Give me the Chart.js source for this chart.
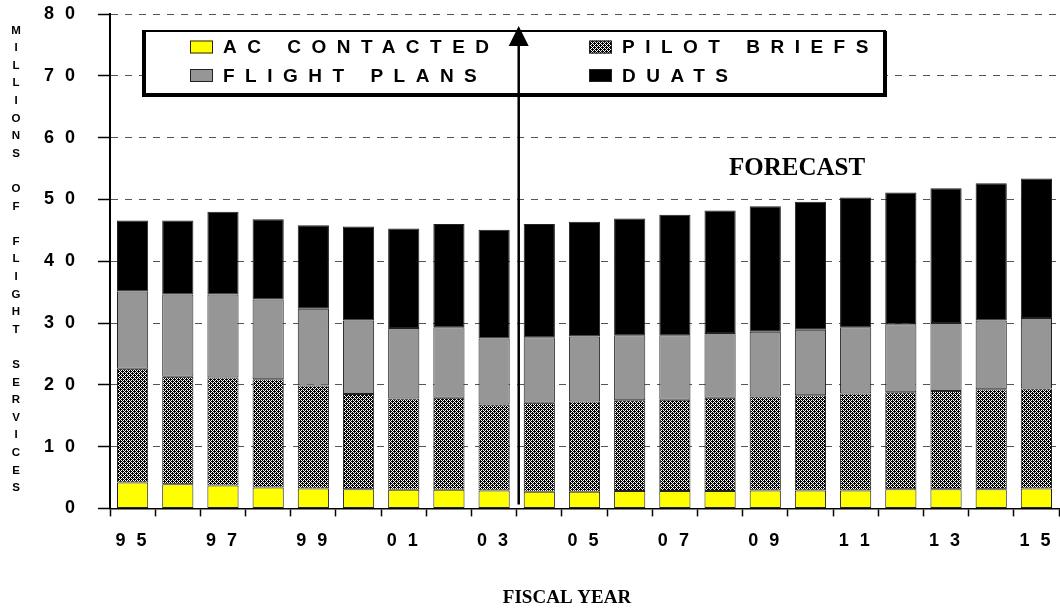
<!DOCTYPE html>
<html>
<head>
<meta charset="utf-8">
<title>Flight services forecast</title>
<script src="https://cdn.jsdelivr.net/npm/chart.js@4.4.1/dist/chart.umd.min.js"></script>
<style>
  body { margin: 0; background: #fff; }
  #wrap { width: 1060px; height: 611px; }
</style>
</head>
<body>
<div id="wrap"><canvas id="servicesChart" width="1060" height="611"></canvas></div>
<script>
// fiscal years (95 .. 15)
const years = ['95', '96', '97', '98', '99', '00', '01', '02', '03', '04', '05',
               '06', '07', '08', '09', '10', '11', '12', '13', '14', '15'];

// millions of flight services, per series (stacked)
const acContacted = [4.2, 3.9, 3.7, 3.4, 3.2, 3.1, 3.0, 3.0, 2.9, 2.7, 2.7,
                     2.8, 2.8, 2.8, 2.9, 2.9, 2.9, 3.1, 3.1, 3.1, 3.2];
const pilotBriefs = [18.4, 17.4, 17.5, 17.5, 16.7, 15.4, 14.8, 14.9, 13.9, 14.4, 14.6,
                     14.7, 14.8, 15.1, 15.2, 15.4, 15.7, 15.7, 15.9, 16.2, 16.2];
const flightPlans = [12.5, 13.3, 13.4, 12.9, 12.4, 11.9, 11.4, 11.4, 10.7, 10.6, 10.5,
                     10.5, 10.4, 10.5, 10.5, 10.6, 10.7, 11.0, 11.0, 11.1, 11.4];
const duats = [11.5, 12.0, 13.4, 13.0, 13.5, 15.2, 16.1, 16.7, 17.6, 18.3, 18.6,
               18.9, 19.5, 19.8, 20.3, 20.7, 21.0, 21.3, 21.8, 22.2, 22.6];

const yTicks = [0, 10, 20, 30, 40, 50, 60, 70, 80];
const yTitle = ['M', 'I', 'L', 'L', 'I', 'O', 'N', 'S', '', 'O', 'F', '',
                'F', 'L', 'I', 'G', 'H', 'T', '', 'S', 'E', 'R', 'V', 'I', 'C', 'E', 'S'];
const legendItems = [
    { text: 'AC CONTACTED', fill: 'yellow' },
    { text: 'PILOT BRIEFS', fill: 'hatch' },
    { text: 'FLIGHT PLANS', fill: 'gray' },
    { text: 'DUATS', fill: 'black' }
];
const forecastLabel = 'FORECAST';
const xTitle = 'FISCAL YEAR';

const SANS = '"Liberation Sans", Arial, sans-serif';
const SERIF = '"Liberation Serif", "Times New Roman", serif';
const YELLOW = '#ffff00';
const GRAY = '#969696';

// fine checker / diagonal dither used for pilot briefs
function makeHatch() {
    const c = document.createElement('canvas');
    c.width = 4; c.height = 4;
    const g = c.getContext('2d');
    g.fillStyle = '#fff';
    g.fillRect(0, 0, 4, 4);
    g.fillStyle = '#000';
    for (let y = 0; y < 4; y++) {
        for (let x = 0; x < 4; x++) {
            if ((x + y) % 2 === 0) g.fillRect(x, y, 1, 1);
            else if ((x + y) % 4 === 1 && x % 2 === 0) g.fillRect(x, y, 1, 1);
        }
    }
    return g.createPattern(c, 'repeat');
}
const hatch = makeHatch();

function spaced(s) {
    return String(s).split('').join(' ');
}

function fillFor(name) {
    if (name === 'yellow') return YELLOW;
    if (name === 'gray') return GRAY;
    if (name === 'hatch') return hatch;
    return '#000';
}

// text pieces + legend + arrow drawn on top of the chart
const overlay = {
    id: 'overlay',
    beforeDraw(chart) {
        chart.ctx.letterSpacing = '3px';
    },
    afterDraw(chart) {
        const ctx = chart.ctx;
        const xs = chart.scales.x;
        const ys = chart.scales.y;
        ctx.save();
        ctx.letterSpacing = '0px';

        // vertical y title, one letter per line
        ctx.fillStyle = '#000';
        ctx.font = 'bold 11.5px ' + SANS;
        ctx.textAlign = 'center';
        ctx.textBaseline = 'middle';
        yTitle.forEach((ch, i) => {
            if (ch) ctx.fillText(ch, 16, 30.5 + i * 17.6);
        });

        // legend box
        const bx = 143, by = 31, bw = 742, bh = 63;
        ctx.fillStyle = '#fff';
        ctx.fillRect(bx, by, bw, bh);
        ctx.strokeStyle = '#000';
        ctx.lineWidth = 2;
        ctx.strokeRect(bx, by, bw, bh);
        ctx.fillStyle = '#000';
        ctx.fillRect(bx - 1, by, 4, bh + 2);
        ctx.fillRect(bx - 1, by + bh - 1, bw + 3, 4);
        ctx.fillRect(bx + bw - 2, by, 4, bh + 2);

        const cols = [190, 589];
        const rows = [47, 75.5];
        ctx.font = 'bold 19px ' + SANS;
        ctx.textAlign = 'left';
        ctx.textBaseline = 'middle';
        ctx.letterSpacing = '10.5px';
        legendItems.forEach((item, i) => {
            const cx = cols[i % 2];
            const cy = rows[Math.floor(i / 2)];
            ctx.fillStyle = fillFor(item.fill);
            ctx.fillRect(cx, cy - 6.5, 23, 13);
            ctx.strokeStyle = '#222';
            ctx.lineWidth = 1;
            ctx.strokeRect(cx + 0.5, cy - 6, 22, 12);
            ctx.fillStyle = '#000';
            ctx.fillText(item.text, cx + 33, cy + 1);
        });
        ctx.letterSpacing = '0px';

        // arrow marking start of the forecast
        const ax = (xs.getPixelForValue(8) + xs.getPixelForValue(9)) / 2 + 2;
        const tip = ys.getPixelForValue(80) + 12;
        ctx.strokeStyle = '#000';
        ctx.lineWidth = 2.5;
        ctx.beginPath();
        ctx.moveTo(ax, ys.getPixelForValue(0) - 4);
        ctx.lineTo(ax, tip + 15);
        ctx.stroke();
        ctx.fillStyle = '#000';
        ctx.beginPath();
        ctx.moveTo(ax, tip);
        ctx.lineTo(ax - 10, tip + 20);
        ctx.lineTo(ax + 10, tip + 20);
        ctx.closePath();
        ctx.fill();

        // FORECAST and axis title
        ctx.font = 'bold 25px ' + SERIF;
        ctx.textAlign = 'center';
        ctx.textBaseline = 'middle';
        ctx.fillText(forecastLabel, 797, 169);
        ctx.font = 'bold 19px ' + SERIF;
        ctx.fillText(xTitle, 567, 598);

        ctx.restore();
        ctx.letterSpacing = '0px';
    }
};

const barStyle = {
    borderColor: '#222',
    borderWidth: 1,
    borderSkipped: false,
    barPercentage: 0.69,
    categoryPercentage: 1.0
};

const ctx = document.getElementById('servicesChart').getContext('2d');
new Chart(ctx, {
    type: 'bar',
    data: {
        labels: years,
        datasets: [
            Object.assign({ label: 'AC CONTACTED', data: acContacted, backgroundColor: YELLOW }, barStyle),
            Object.assign({ label: 'PILOT BRIEFS', data: pilotBriefs, backgroundColor: hatch }, barStyle),
            Object.assign({ label: 'FLIGHT PLANS', data: flightPlans, backgroundColor: GRAY }, barStyle),
            Object.assign({ label: 'DUATS', data: duats, backgroundColor: '#000' }, barStyle)
        ]
    },
    options: {
        responsive: false,
        animation: false,
        layout: { padding: { top: 14, right: 1, bottom: 45, left: 0 } },
        plugins: {
            legend: { display: false },
            tooltip: { enabled: false }
        },
        scales: {
            x: {
                stacked: true,
                afterFit: (scale) => { scale.paddingLeft = 0; scale.paddingRight = 0; },
                grid: {
                    offset: true,
                    drawOnChartArea: false,
                    drawTicks: true,
                    tickLength: 8,
                    tickColor: '#000',
                    tickWidth: 1.5
                },
                border: { display: true, color: '#000', width: 1.5 },
                ticks: {
                    autoSkip: false,
                    maxRotation: 0,
                    padding: 14,
                    color: '#000',
                    font: { family: SANS, size: 18, weight: 'bold' },
                    callback: function (value, index) {
                        return index % 2 === 0 ? spaced(this.getLabelForValue(value)) : '';
                    }
                }
            },
            y: {
                stacked: true,
                min: 0,
                max: 80,
                afterFit: (scale) => {
                    scale.width = 110;
                    scale.paddingTop = 0;
                    scale.paddingBottom = 0;
                },
                afterBuildTicks: (scale) => {
                    scale.ticks = yTicks.map(v => ({ value: v }));
                },
                grid: {
                    color: '#555',
                    lineWidth: 1,
                    drawTicks: true,
                    tickLength: 12,
                    tickColor: '#000',
                    tickWidth: 1.5,
                    tickBorderDash: []
                },
                border: { display: true, color: '#000', width: 2, dash: [7, 7] },
                ticks: {
                    padding: 20,
                    color: '#000',
                    font: { family: SANS, size: 18, weight: 'bold' },
                    callback: (v) => spaced(v)
                }
            }
        }
    },
    plugins: [overlay]
});
</script>
</body>
</html>
